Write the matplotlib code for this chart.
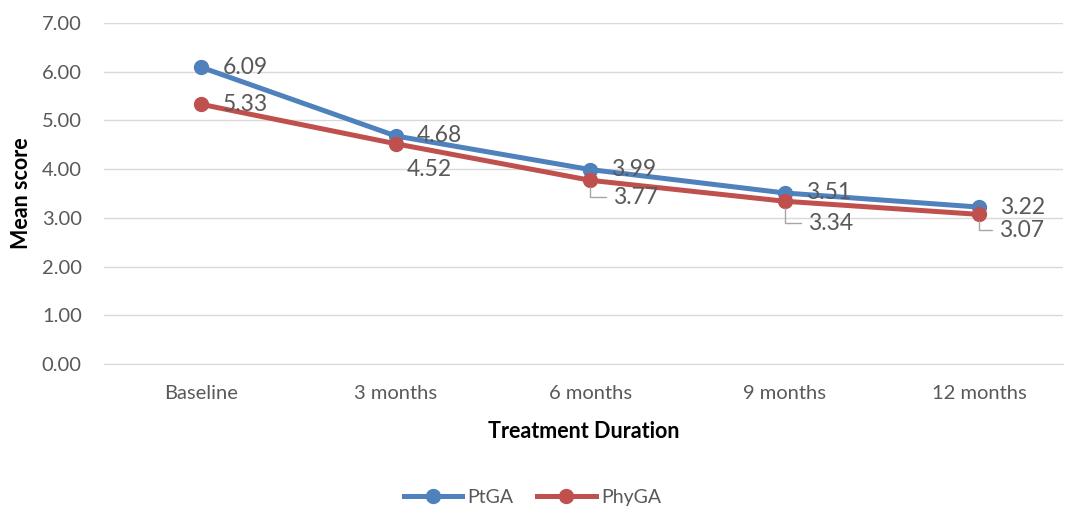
import matplotlib.pyplot as plt

plt.rcParams['font.family'] = ['Lato', 'DejaVu Sans']

# Data
categories = ['Baseline', '3 months', '6 months', '9 months', '12 months']
ptga = [6.09, 4.68, 3.99, 3.51, 3.22]
phyga = [5.33, 4.52, 3.77, 3.34, 3.07]
y_ticks = [0, 1, 2, 3, 4, 5, 6, 7]

blue = '#4F81BD'
red = '#C0504D'
grey = '#595959'
grid_col = '#D9D9D9'

fig = plt.figure(figsize=(10.65, 5.09), dpi=100)
ax = fig.add_axes([0.0977, 0.2849, 0.9005, 0.67])

x = list(range(len(categories)))
ax.plot(x, ptga, color=blue, lw=3.6, marker='o', ms=10, label='PtGA', zorder=3)
ax.plot(x, phyga, color=red, lw=3.6, marker='o', ms=10, label='PhyGA', zorder=4)

ax.set_xlim(-0.5, 4.43)
ax.set_ylim(0, 7)
ax.set_yticks(y_ticks)
ax.set_yticklabels([f'{v:.2f}' for v in y_ticks])
ax.set_xticks(x)
ax.set_xticklabels(categories)
ax.tick_params(axis='both', length=0, labelsize=14.5, colors=grey)
ax.tick_params(axis='y', pad=16)
ax.tick_params(axis='x', pad=15)
ax.grid(axis='y', color=grid_col, lw=1)
ax.set_axisbelow(True)
for s in ['top', 'right', 'left']:
    ax.spines[s].set_visible(False)
ax.spines['bottom'].set_color(grid_col)

ax.set_xlabel('Treatment Duration', fontsize=15.5, fontweight='bold')
ax.set_ylabel('Mean score', fontsize=15.5, fontweight='bold')
ax.xaxis.set_label_coords(0.5, -68 / 341, transform=ax.transAxes)
ax.yaxis.set_label_coords(-0.0865, 0.5)
ax.xaxis.label.set_va('center')
ax.yaxis.label.set_va('center')

# PtGA labels: right of point
for xi, v in zip(x, ptga):
    ax.annotate(f'{v:.2f}', (xi, v), xytext=(21, 0), textcoords='offset pixels',
                ha='left', va='center', fontsize=16.5, color=grey, zorder=5)

# PhyGA labels
phy_offsets = [(21, 0), (11, -26), (23, -17), (23, -22), (20, -16)]
for i, (xi, v) in enumerate(zip(x, phyga)):
    dx, dy = phy_offsets[i]
    if i >= 2:
        ax.annotate(f'{v:.2f}', (xi, v), xytext=(dx, dy), textcoords='offset pixels',
                    ha='left', va='center', fontsize=16.5, color=grey, zorder=5,
                    arrowprops=dict(arrowstyle='-', color='#A6A6A6', lw=1,
                                    connectionstyle='angle,angleA=180,angleB=90,rad=0',
                                    relpos=(0, 0.5), shrinkA=3, shrinkB=5))
    else:
        ax.annotate(f'{v:.2f}', (xi, v), xytext=(dx, dy), textcoords='offset pixels',
                    ha='left', va='center', fontsize=16.5, color=grey, zorder=5)

leg = fig.legend(loc='center', bbox_to_anchor=(0.5, 0.023), ncol=2, frameon=False,
                 fontsize=14, handlelength=3.0, columnspacing=1.2, handletextpad=0.3)
for t in leg.get_texts():
    t.set_color(grey)

fig.savefig('out.png', dpi=100)
